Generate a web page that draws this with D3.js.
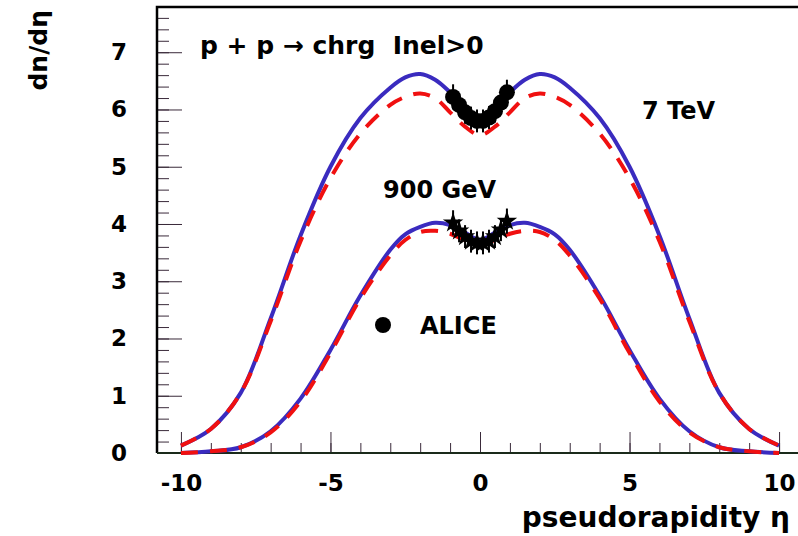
<!DOCTYPE html>
<html>
<head>
<meta charset="utf-8">
<script src="https://cdn.jsdelivr.net/npm/d3@7"></script>
<style>
  body { margin: 0; background: #fff; }
  text { font-family: "DejaVu Sans", sans-serif; font-weight: bold; fill: #000; }
</style>
</head>
<body>
<div id="vis"></div>
<script>
// pseudorapidity grid for the model curves
const etaGrid = [-10, -9, -8, -7, -6, -5, -4, -3, -2.5, -2, -1.5, -1, -0.5, 0,
  0.5, 1, 1.5, 2, 2.5, 3, 4, 5, 6, 7, 8, 9, 10]

// 7 TeV model curves
const blue7 = [0.13, 0.42, 1.05, 2.35, 3.8, 5.0, 5.85, 6.38, 6.56, 6.62, 6.52, 6.3, 6.02, 5.88,
  6.02, 6.3, 6.52, 6.62, 6.56, 6.38, 5.85, 5.0, 3.8, 2.35, 1.05, 0.42, 0.13]
const red7 = [0.13, 0.42, 1.05, 2.3, 3.7, 4.8, 5.58, 6.08, 6.22, 6.28, 6.2, 5.95, 5.7, 5.55,
  5.7, 5.95, 6.2, 6.28, 6.22, 6.08, 5.58, 4.8, 3.7, 2.3, 1.05, 0.42, 0.13]

// 900 GeV model curves
const blue900 = [0.0, 0.03, 0.1, 0.38, 0.95, 1.8, 2.75, 3.55, 3.82, 3.95, 4.02, 3.98, 3.85, 3.72,
  3.85, 3.98, 4.02, 3.95, 3.82, 3.55, 2.75, 1.8, 0.95, 0.38, 0.1, 0.03, 0.0]
const red900 = [0.0, 0.03, 0.1, 0.36, 0.9, 1.75, 2.7, 3.45, 3.72, 3.86, 3.88, 3.83, 3.72, 3.66,
  3.72, 3.83, 3.88, 3.86, 3.72, 3.45, 2.7, 1.75, 0.9, 0.36, 0.1, 0.03, 0.0]

// ALICE measurements
const etaAlice = [-0.9, -0.7, -0.5, -0.3, -0.1, 0.1, 0.3, 0.5, 0.7, 0.9]
const alice7 = [6.22, 6.08, 5.95, 5.85, 5.8, 5.8, 5.86, 5.97, 6.12, 6.3]
const alice900 = [4.02, 3.88, 3.78, 3.7, 3.67, 3.67, 3.7, 3.78, 3.9, 4.05]
const aliceErr = [0.22, 0.2, 0.2, 0.2, 0.2, 0.2, 0.2, 0.2, 0.2, 0.22]

// tick values
const xMajor = [-10, -5, 0, 5, 10]
const yMajor = [0, 1, 2, 3, 4, 5, 6, 7]

const width = 798
const height = 536
const frame = { left: 157, right: 803, top: 7, bottom: 453 }

const svg = d3.select('#vis').append('svg')
  .attr('width', width)
  .attr('height', height)

const x = d3.scaleLinear().domain([-10.8, 10.8]).range([frame.left, frame.right])
const y = d3.scaleLinear().domain([0, 7.79]).range([frame.bottom, frame.top])

// minor ticks
svg.append('g')
  .attr('transform', `translate(0,${frame.bottom})`)
  .call(d3.axisBottom(x).tickValues(d3.range(-10, 11, 1)).tickSize(-10).tickFormat(''))
  .call(g => g.select('.domain').remove())
svg.append('g')
  .attr('transform', `translate(${frame.left},0)`)
  .call(d3.axisLeft(y).tickValues(d3.range(0, 7.7, 0.2)).tickSize(-12).tickFormat(''))
  .call(g => g.select('.domain').remove())

// major ticks and labels (plain hyphen for negatives, like the original)
svg.append('g')
  .attr('class', 'x-axis')
  .attr('transform', `translate(0,${frame.bottom})`)
  .call(d3.axisBottom(x).tickValues(xMajor).tickSize(-21).tickPadding(22).tickFormat(d => String(d)))
  .call(g => g.select('.domain').remove())
svg.append('g')
  .attr('class', 'y-axis')
  .attr('transform', `translate(${frame.left},0)`)
  .call(d3.axisLeft(y).tickValues(yMajor).tickSize(-25).tickPadding(30).tickFormat(d => String(d)))
  .call(g => g.select('.domain').remove())

svg.selectAll('.tick line').attr('stroke', '#3a2a3a')
svg.selectAll('.x-axis text, .y-axis text')
  .attr('font-family', 'DejaVu Sans')
  .attr('font-weight', 'bold')
  .attr('font-size', 23)
  .attr('fill', '#000')

// frame
svg.append('path')
  .attr('d', `M${frame.left},${frame.bottom}V${frame.top}H${frame.right}`)
  .attr('fill', 'none')
  .attr('stroke', '#000')
  .attr('stroke-width', 2.5)
svg.append('line')
  .attr('x1', frame.left).attr('x2', frame.right)
  .attr('y1', frame.bottom).attr('y2', frame.bottom)
  .attr('stroke', '#1a2a1a')
  .attr('stroke-width', 2)

// curves
const line = d3.line()
  .x((d, i) => x(etaGrid[i]))
  .y(d => y(d))
  .curve(d3.curveCatmullRom)

const curves = svg.append('g').attr('class', 'curves')
;[blue7, blue900].forEach(s => {
  curves.append('path')
    .attr('d', line(s))
    .attr('fill', 'none')
    .attr('stroke', '#3a2bbf')
    .attr('stroke-width', 4)
})
;[red7, red900].forEach(s => {
  curves.append('path')
    .attr('d', line(s))
    .attr('fill', 'none')
    .attr('stroke', '#f01010')
    .attr('stroke-width', 4)
    .attr('stroke-dasharray', '17,12')
})

// data points with error bars
const pts = svg.append('g').attr('class', 'points')
;[alice7, alice900].forEach(s => {
  pts.selectAll(null)
    .data(s)
    .enter()
    .append('line')
    .attr('x1', (d, i) => x(etaAlice[i]))
    .attr('x2', (d, i) => x(etaAlice[i]))
    .attr('y1', (d, i) => y(d - aliceErr[i]))
    .attr('y2', (d, i) => y(d + aliceErr[i]))
    .attr('stroke', '#000')
    .attr('stroke-width', 2)
})
pts.selectAll('.c7')
  .data(alice7)
  .enter()
  .append('circle')
  .attr('cx', (d, i) => x(etaAlice[i]))
  .attr('cy', d => y(d))
  .attr('r', 8)
  .attr('fill', '#000')
pts.selectAll('.s900')
  .data(alice900)
  .enter()
  .append('path')
  .attr('d', d3.symbol(d3.symbolStar, 130))
  .attr('transform', (d, i) => `translate(${x(etaAlice[i])},${y(d)})`)
  .attr('fill', '#000')

// legend
svg.append('circle')
  .attr('cx', 383).attr('cy', 325).attr('r', 8).attr('fill', '#000')
svg.append('text')
  .attr('x', 420).attr('y', 334)
  .attr('font-size', 24)
  .text('ALICE')

// labels
svg.append('text')
  .attr('x', 200).attr('y', 54)
  .attr('font-size', 25)
  .style('white-space', 'pre')
  .text('p + p \u2192 chrg  Inel>0')
svg.append('text')
  .attr('x', 642).attr('y', 119)
  .attr('font-size', 24)
  .text('7 TeV')
svg.append('text')
  .attr('x', 383).attr('y', 198)
  .attr('font-size', 24)
  .text('900 GeV')

// axis titles
svg.append('text')
  .attr('text-anchor', 'end')
  .attr('transform', 'translate(47,10) rotate(-90)')
  .attr('font-size', 25)
  .text('dn/d\u03b7')
svg.append('text')
  .attr('text-anchor', 'end')
  .attr('x', 790).attr('y', 527)
  .attr('font-size', 28)
  .text('pseudorapidity \u03b7')
</script>
</body>
</html>
